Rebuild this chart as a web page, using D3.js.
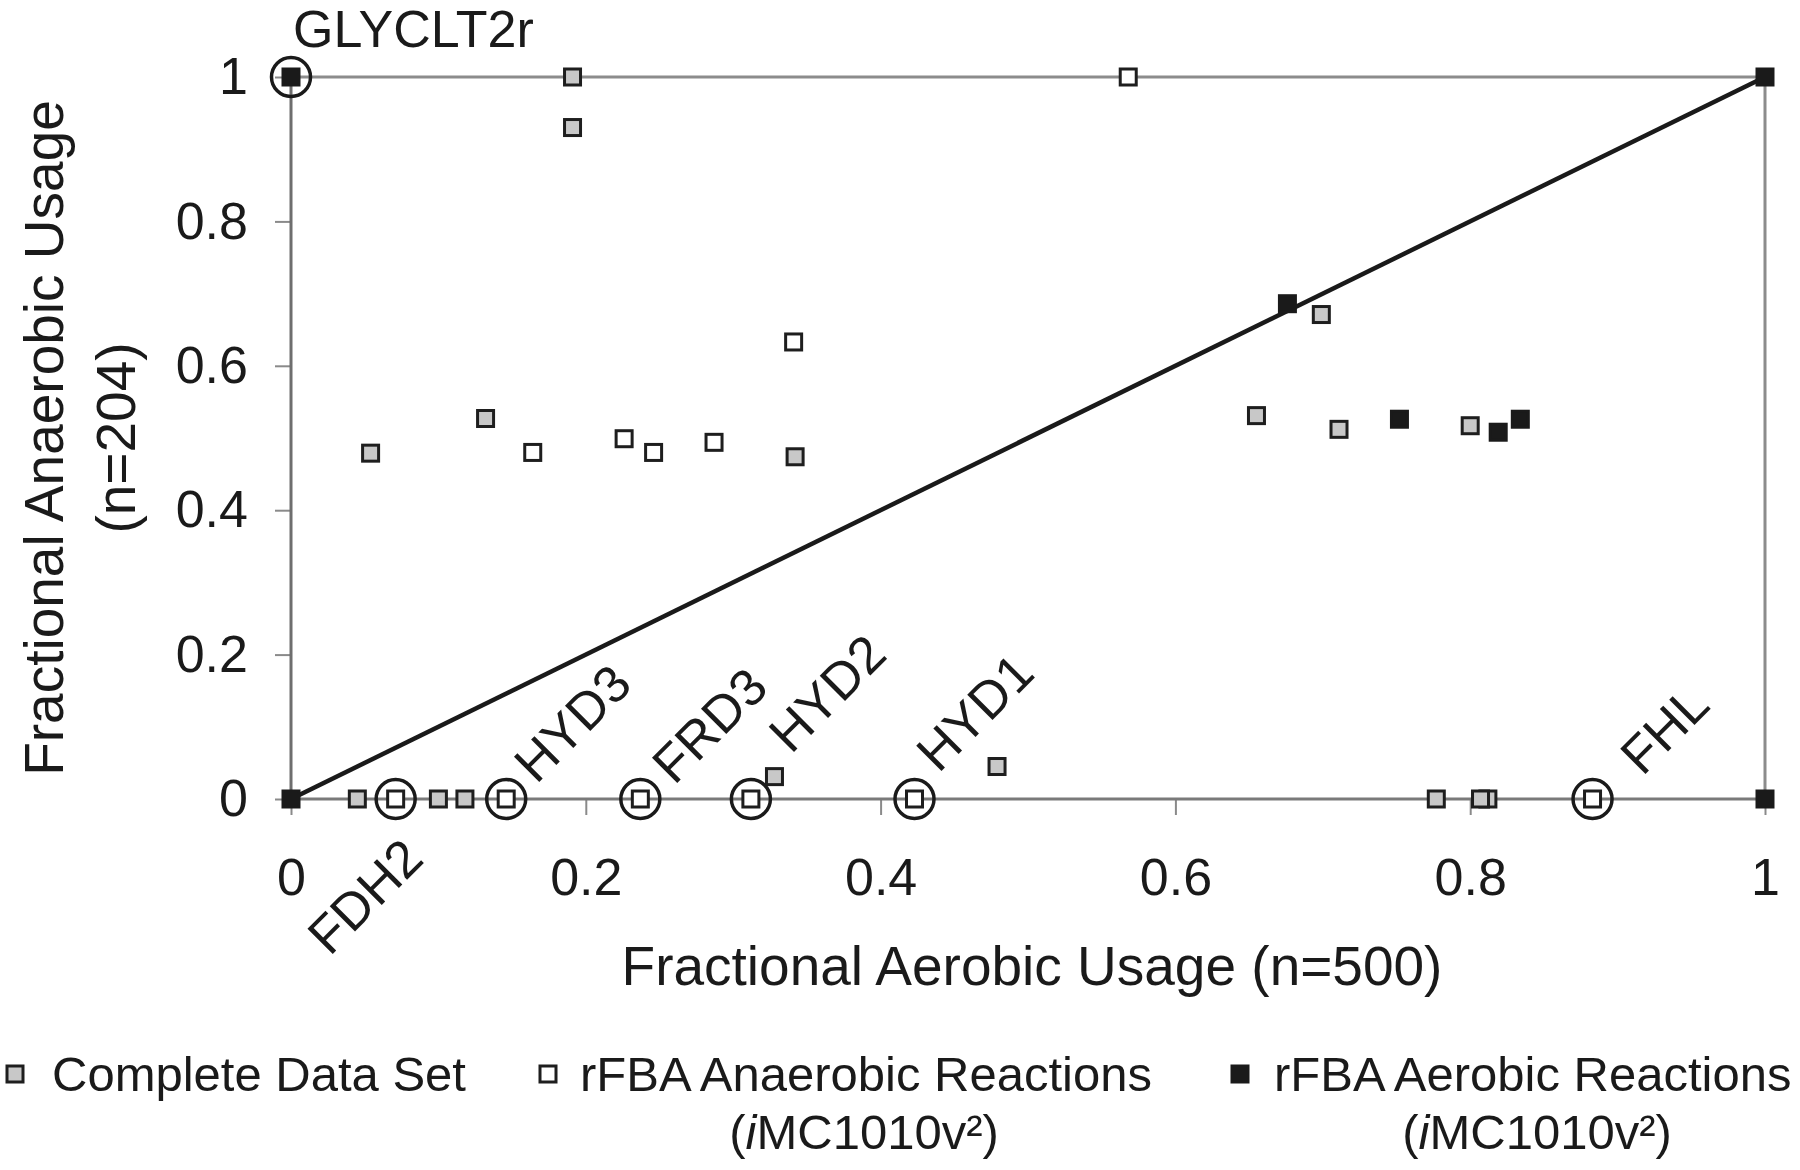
<!DOCTYPE html>
<html>
<head>
<meta charset="utf-8">
<script src="https://cdn.jsdelivr.net/npm/d3@7"></script>
<style>
  html, body { margin: 0; padding: 0; background: #fff; }
  svg text { font-family: 'Liberation Sans', Arial, Helvetica, sans-serif; fill: #1a1a1a; }
</style>
</head>
<body>
<div id="chart"></div>
<script>
// ---------------- data ----------------
var seriesNames = ['Complete Data Set', 'rFBA Anaerobic Reactions', 'rFBA Aerobic Reactions'];
var seriesNotes = ['', 'iMC1010v2', 'iMC1010v2'];

// complete data set (grey squares)
var completeX = [0.191, 0.191, 0.054, 0.132, 0.342, 0.655, 0.699, 0.711, 0.800, 0.479, 0.328,
                 0.045, 0.100, 0.118, 0.777, 0.812, 0.807];
var completeY = [1.000, 0.930, 0.479, 0.527, 0.474, 0.531, 0.671, 0.512, 0.517, 0.045, 0.031,
                 0, 0, 0, 0, 0, 0];

// rFBA anaerobic reactions (white squares)
var anaerobicX = [0.568, 0.341, 0.164, 0.226, 0.246, 0.287, 0.071, 0.146, 0.237, 0.312, 0.423, 0.883];
var anaerobicY = [1.000, 0.633, 0.480, 0.499, 0.480, 0.494, 0, 0, 0, 0, 0, 0];

// rFBA aerobic reactions (black squares)
var aerobicX = [0, 1, 0, 1, 0.676, 0.752, 0.819, 0.834];
var aerobicY = [1, 1, 0, 0, 0.686, 0.526, 0.508, 0.526];

// circled, named reactions
var reactionNames = ['GLYCLT2r', 'FDH2', 'HYD3', 'FRD3', 'HYD2', 'HYD1', 'FHL'];
var reactionX = [0, 0.071, 0.146, 0.237, 0.312, 0.423, 0.883];
var reactionY = [1, 0, 0, 0, 0, 0, 0];

var tickValues = [0, 0.2, 0.4, 0.6, 0.8, 1];
var tickLabels = ['0', '0.2', '0.4', '0.6', '0.8', '1'];
var xTitle = 'Fractional Aerobic Usage (n=500)';
var yTitle = ['Fractional Anaerobic Usage', '(n=204)'];

// ---------------- chart ----------------
function renderChart() {

  var attrs = {
    svgWidth: 1800,
    svgHeight: 1170,
    marginLeft: 291,
    marginTop: 77,
    chartWidth: 1474,
    chartHeight: 722,
    markerSize: 19,
    ringRadius: 19.5,
    tickFont: 52,
    titleFont: 55,
    legendFont: 49,
    labelFont: 52,
    frameColor: '#8c8c8c'
  };

  // label placement next to the circled points (pixels from the point)
  var labelLayout = {
    GLYCLT2r: { dx: 2, dy: -30, rotate: 0, anchor: 'start' },
    FDH2: { dx: 30, dy: 62, rotate: -45, anchor: 'end' },
    HYD3: { dx: 30, dy: -14, rotate: -45, anchor: 'start' },
    FRD3: { dx: 34, dy: -13, rotate: -45, anchor: 'start' },
    HYD2: { dx: 40, dy: -44, rotate: -45, anchor: 'start' },
    HYD1: { dx: 24, dy: -25, rotate: -45, anchor: 'start' },
    FHL: { dx: 50, dy: -22, rotate: -45, anchor: 'start' }
  };

  var seriesStyle = [
    { fill: '#c8c8c8', stroke: '#1e1e1e' },
    { fill: '#ffffff', stroke: '#1e1e1e' },
    { fill: '#1a1a1a', stroke: '#1a1a1a' }
  ];

  var scales = {};
  scales.x = d3.scaleLinear().domain([0, 1]).range([0, attrs.chartWidth]);
  scales.y = d3.scaleLinear().domain([0, 1]).range([attrs.chartHeight, 0]);

  var svg = d3.select('#chart').append('svg')
    .attr('width', attrs.svgWidth)
    .attr('height', attrs.svgHeight);

  var chart = svg.append('g')
    .attr('transform', 'translate(' + attrs.marginLeft + ',' + attrs.marginTop + ')');

  // axes (ticks + labels), domain drawn separately as a frame
  var axes = {};
  axes.left = d3.axisLeft(scales.y).tickValues(tickValues)
    .tickFormat(function (d, i) { return tickLabels[i]; })
    .tickSize(16).tickSizeOuter(0).tickPadding(27);
  axes.bottom = d3.axisBottom(scales.x).tickValues(tickValues)
    .tickFormat(function (d, i) { return tickLabels[i]; })
    .tickSize(16).tickSizeOuter(0).tickPadding(43);

  var leftAxis = chart.append('g').attr('class', 'left-axis').call(axes.left);
  var bottomAxis = chart.append('g').attr('class', 'bottom-axis')
    .attr('transform', 'translate(0,' + attrs.chartHeight + ')')
    .call(axes.bottom);

  [leftAxis, bottomAxis].forEach(function (ax) {
    ax.select('.domain').remove();
    ax.selectAll('.tick line').attr('stroke', '#8a8a8a').attr('stroke-width', 2);
    ax.selectAll('.tick text')
      .attr('fill', '#1a1a1a')
      .style('font-size', attrs.tickFont + 'px');
  });

  // frame lines
  var frame = [
    { x1: 0, y1: 0, x2: 0, y2: 1, c: '#6e6e6e' },
    { x1: 0, y1: 0, x2: 1, y2: 0, c: '#7a7a7a' },
    { x1: 0, y1: 1, x2: 1, y2: 1, c: attrs.frameColor },
    { x1: 1, y1: 0, x2: 1, y2: 1, c: attrs.frameColor }
  ];
  chart.selectAll('.frame').data(frame).enter().append('line')
    .attr('class', 'frame')
    .attr('x1', function (d) { return scales.x(d.x1); })
    .attr('y1', function (d) { return scales.y(d.y1); })
    .attr('x2', function (d) { return scales.x(d.x2); })
    .attr('y2', function (d) { return scales.y(d.y2); })
    .attr('stroke', function (d) { return d.c; })
    .attr('stroke-width', 3);

  // y = x reference line
  chart.append('line')
    .attr('x1', scales.x(0)).attr('y1', scales.y(0))
    .attr('x2', scales.x(1)).attr('y2', scales.y(1))
    .attr('stroke', '#1a1a1a')
    .attr('stroke-width', 4.5);

  // markers
  var allSeries = [
    { xs: completeX, ys: completeY },
    { xs: anaerobicX, ys: anaerobicY },
    { xs: aerobicX, ys: aerobicY }
  ];
  var s = attrs.markerSize - 3;
  allSeries.forEach(function (ser, si) {
    var pts = ser.xs.map(function (x, i) { return { x: x, y: ser.ys[i] }; });
    chart.append('g').attr('class', 'series-' + si)
      .selectAll('rect').data(pts).enter().append('rect')
      .attr('x', function (d) { return scales.x(d.x) - s / 2; })
      .attr('y', function (d) { return scales.y(d.y) - s / 2; })
      .attr('width', s)
      .attr('height', s)
      .attr('fill', seriesStyle[si].fill)
      .attr('stroke', seriesStyle[si].stroke)
      .attr('stroke-width', 3);
  });

  // circled reactions and their names
  var named = reactionNames.map(function (n, i) { return { name: n, x: reactionX[i], y: reactionY[i] }; });
  chart.selectAll('.ring').data(named).enter().append('circle')
    .attr('class', 'ring')
    .attr('cx', function (d) { return scales.x(d.x); })
    .attr('cy', function (d) { return scales.y(d.y); })
    .attr('r', attrs.ringRadius)
    .attr('fill', 'none')
    .attr('stroke', '#1a1a1a')
    .attr('stroke-width', 3.5);

  chart.selectAll('.reaction-label').data(named).enter().append('text')
    .attr('class', 'reaction-label')
    .attr('transform', function (d) {
      var l = labelLayout[d.name];
      return 'translate(' + (scales.x(d.x) + l.dx) + ',' + (scales.y(d.y) + l.dy) + ') rotate(' + l.rotate + ')';
    })
    .attr('text-anchor', function (d) { return labelLayout[d.name].anchor; })
    .style('font-size', attrs.labelFont + 'px')
    .text(function (d) { return d.name; });

  // axis titles
  svg.append('text')
    .attr('x', attrs.marginLeft + attrs.chartWidth / 2 + 4)
    .attr('y', 985)
    .attr('text-anchor', 'middle')
    .style('font-size', attrs.titleFont + 'px')
    .text(xTitle);

  var yMid = attrs.marginTop + attrs.chartHeight / 2;
  yTitle.forEach(function (t, i) {
    svg.append('text')
      .attr('transform', 'translate(' + (63 + i * 72) + ',' + yMid + ') rotate(-90)')
      .attr('text-anchor', 'middle')
      .style('font-size', attrs.titleFont + 'px')
      .text(t);
  });

  // legend
  var legendPos = [
    { sx: 15, tx: 52, cx: 0 },
    { sx: 548, tx: 580, cx: 864 },
    { sx: 1240, tx: 1274, cx: 1537 }
  ];
  var legend = svg.append('g').attr('class', 'legend');
  seriesNames.forEach(function (name, i) {
    var p = legendPos[i];
    legend.append('rect')
      .attr('x', p.sx - s / 2).attr('y', 1074 - s / 2)
      .attr('width', s).attr('height', s)
      .attr('fill', seriesStyle[i].fill)
      .attr('stroke', seriesStyle[i].stroke)
      .attr('stroke-width', 3);
    legend.append('text')
      .attr('x', p.tx).attr('y', 1091)
      .style('font-size', attrs.legendFont + 'px')
      .text(name);
    if (seriesNotes[i]) {
      var note = seriesNotes[i];
      var t = legend.append('text')
        .attr('x', p.cx).attr('y', 1149)
        .attr('text-anchor', 'middle')
        .style('font-size', attrs.legendFont + 'px');
      t.append('tspan').text('(');
      t.append('tspan').style('font-style', 'italic').text(note.charAt(0));
      t.append('tspan').text(note.slice(1, -1));
      t.append('tspan').text(note.slice(-1) === '2' ? '\u00b2' : note.slice(-1));
      t.append('tspan').text(')');
    }
  });
}

renderChart();
</script>
</body>
</html>
